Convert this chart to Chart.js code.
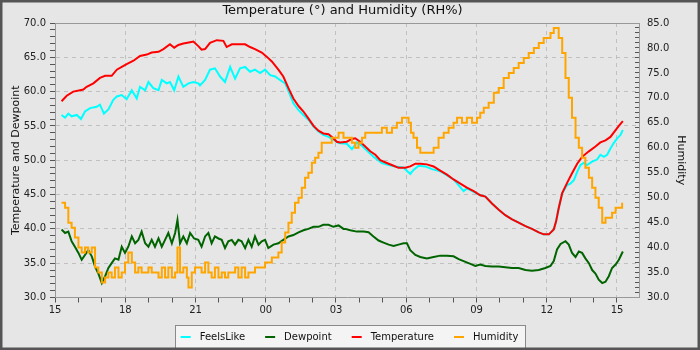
<!DOCTYPE html>
<html lang="en">
<head>
<meta charset="UTF-8">
<title>Temperature and Humidity</title>
<style>
    html, body { margin: 0; padding: 0; background: #e6e6e6; }
    canvas { display: block; }
</style>
</head>
<body>
<canvas id="weatherChart" width="700" height="350"></canvas>
<script src="https://cdn.jsdelivr.net/npm/chart.js"></script>
<script>
// Time is counted in hours from 15:00 on the first day
const xTickLabels = ['15', '18', '21', '00', '03', '06', '09', '12', '15'];

const tempHours = [0.28, 0.50, 0.78, 1.07, 1.21, 1.35, 1.64, 1.92, 2.14, 2.42, 2.64, 2.85, 3.06, 3.35, 3.63, 3.92, 4.13, 4.42, 4.63, 4.91, 5.09, 5.27, 5.48, 5.77, 5.91, 6.13,
    6.26, 6.41, 6.62, 6.91, 7.19, 7.33, 7.55, 7.83, 8.12, 8.33, 8.54, 8.83, 9.04, 9.26, 9.54, 9.75, 9.97, 10.18, 10.40, 10.61, 10.82, 11.04, 11.25, 11.46, 11.68, 11.89, 12.03,
    12.18, 12.46, 12.68, 12.82, 13.03, 13.25, 13.46, 13.68, 13.89, 14.17, 14.46, 14.67, 14.96, 15.17, 15.39, 15.60, 15.88, 16.17, 16.45, 16.74, 17.02, 17.31, 17.59, 17.88, 18.16,
    18.38, 18.66, 18.95, 19.23, 19.52, 19.80, 20.09, 20.37, 20.66, 20.87, 21.09, 21.30, 21.40, 21.51, 21.66, 21.87, 22.08, 22.30, 22.51, 22.80, 23.08, 23.29, 23.51, 23.72, 23.94, 24.08, 24.25];
const tempValues = [58.6, 59.4, 60.0, 60.2, 60.3, 60.7, 61.2, 62.0, 62.3, 62.3, 63.2, 63.6, 64.0, 64.5, 65.2, 65.4, 65.7, 65.8, 66.2, 66.9, 66.4, 66.8, 67.0, 67.2, 67.3, 66.6,
    66.1, 66.2, 67.1, 67.5, 67.4, 66.5, 66.9, 66.9, 66.9, 66.5, 66.2, 65.7, 65.1, 64.4, 63.2, 62.2, 60.5, 59.0, 57.9, 57.1, 56.1, 55.0, 54.3, 53.9, 53.8, 53.2, 52.7,
    52.6, 52.7, 53.1, 53.2, 52.7, 52.0, 51.3, 50.8, 50.0, 49.6, 49.2, 48.9, 48.9, 49.1, 49.5, 49.5, 49.4, 49.1, 48.5, 47.9, 47.2, 46.6, 46.0, 45.5, 44.9,
    44.7, 43.7, 42.8, 42.0, 41.4, 40.9, 40.4, 40.0, 39.5, 39.2, 39.2, 39.9, 41.1, 43.0, 45.2, 46.7, 48.1, 49.5, 50.5, 51.3, 52.0, 52.6, 52.9, 53.4, 54.4, 55.0, 55.7];

const feelsHours = [0.28, 0.43, 0.57, 0.71, 0.93, 1.11, 1.28, 1.50, 1.78, 1.92, 2.09, 2.28, 2.49, 2.64, 2.85, 3.06, 3.28, 3.49, 3.63, 3.85, 3.99, 4.20, 4.42, 4.56, 4.77, 4.91, 5.09, 5.27, 5.48, 5.70, 5.91,
    6.12, 6.19, 6.41, 6.62, 6.83, 7.05, 7.26, 7.48, 7.69, 7.90, 8.12, 8.33, 8.54, 8.76, 8.97, 9.19, 9.40, 9.61, 9.83, 10.04, 10.18, 10.40, 10.61, 10.82, 11.04, 11.25, 11.46, 11.68, 11.89, 12.11,
    12.46, 12.68, 12.89, 13.11, 13.32, 13.60, 13.96, 14.25, 14.53, 14.89, 15.17, 15.31, 15.53, 15.81, 16.10, 16.45, 17.02, 17.45, 17.59, 17.88, 18.16,
    18.38, 18.66, 18.95, 19.23, 19.52, 19.80, 20.09, 20.37, 20.66, 20.87, 21.09, 21.30, 21.40, 21.51, 21.66,
    21.87, 22.01, 22.16, 22.30, 22.44, 22.58, 22.72, 22.94, 23.15, 23.29, 23.44, 23.58, 23.72, 23.86, 24.01, 24.15, 24.25];
const feelsValues = [56.6, 56.2, 56.8, 56.4, 56.6, 56.0, 57.1, 57.6, 57.8, 58.1, 56.8, 57.4, 58.8, 59.3, 59.5, 58.9, 60.2, 59.0, 60.7, 60.2, 61.4, 60.5, 60.2, 61.7, 61.2, 61.4, 60.2, 62.2, 60.7, 61.2, 61.4,
    61.2, 60.9, 61.7, 63.2, 63.4, 62.2, 61.4, 63.6, 61.9, 63.4, 63.6, 62.9, 63.2, 62.7, 63.2, 62.4, 62.2, 61.7, 61.2, 59.5, 58.3, 57.3, 56.6, 55.9, 54.9, 54.2, 53.7, 53.4, 53.0, 52.5,
    52.4, 51.6, 52.6, 52.1, 51.4, 50.5, 49.6, 49.3, 49.1, 48.9, 48.0, 48.6, 49.2, 49.1, 48.7, 48.4, 47.2, 45.5, 45.9, 45.4, 44.9,
    44.7, 43.7, 42.8, 42.0, 41.4, 40.9, 40.4, 40.0, 39.5, 39.2, 39.2, 39.9, 41.1, 43.0, 45.2,
    46.4, 46.6, 47.1, 48.3, 49.3, 49.6, 49.3, 49.8, 50.1, 50.8, 50.5, 50.8, 51.7, 52.5, 53.2, 53.7, 54.4];

const dewHours = [0.28, 0.43, 0.57, 0.71, 0.85, 1.00, 1.14, 1.28, 1.42, 1.57, 1.71, 1.85, 2.00, 2.14, 2.28, 2.42, 2.56, 2.71, 2.85, 2.99, 3.13, 3.28, 3.42, 3.56, 3.70, 3.85, 3.99, 4.13, 4.27, 4.42, 4.56, 4.70, 4.84, 4.99, 5.13, 5.23, 5.34, 5.48, 5.63, 5.77, 5.94,
    6.12, 6.26, 6.41, 6.55, 6.69, 6.83, 6.98, 7.12, 7.26, 7.40, 7.55, 7.69, 7.83, 7.97, 8.12, 8.26, 8.40, 8.54, 8.69, 8.83, 8.97, 9.11, 9.33, 9.54, 9.75, 9.97, 10.18, 10.40, 10.61, 10.82, 11.04, 11.25, 11.46, 11.68, 11.89, 12.11, 12.32,
    12.39, 12.61, 12.89, 13.18, 13.39, 13.60, 13.82, 14.03, 14.25, 14.46, 14.67, 14.89, 15.03, 15.17, 15.39, 15.60, 15.88, 16.17, 16.45, 16.74, 17.02, 17.24, 17.45, 17.74, 17.95, 18.16,
    18.38, 18.66, 18.95, 19.23, 19.52, 19.80, 20.09, 20.37, 20.66, 20.94, 21.16, 21.30, 21.44, 21.59, 21.80, 21.94, 22.08, 22.23, 22.37, 22.51, 22.65, 22.80, 22.94, 23.08, 23.22, 23.37, 23.51, 23.65, 23.79, 23.94, 24.08, 24.25];
const dewValues = [39.9, 39.4, 39.6, 38.2, 37.4, 36.5, 35.5, 36.2, 36.9, 36.0, 34.5, 33.5, 32.1, 33.1, 34.3, 35.0, 35.7, 35.5, 37.4, 36.5, 37.4, 38.9, 37.9, 38.4, 39.6, 37.9, 37.4, 38.4, 37.4, 38.6, 37.4, 38.4, 39.4, 37.9, 39.4, 41.3, 37.9, 38.9, 37.9, 39.4, 38.6,
    38.4, 37.4, 38.9, 39.4, 37.9, 38.9, 38.6, 38.4, 37.2, 38.2, 38.4, 37.7, 38.4, 38.2, 37.2, 38.4, 37.4, 38.9, 37.7, 38.2, 38.4, 37.2, 37.7, 37.9, 38.4, 38.9, 39.1, 39.5, 39.8, 40.0, 40.3, 40.3, 40.6, 40.6, 40.3, 40.5, 40.0,
    40.0, 39.8, 39.6, 39.6, 39.5, 38.9, 38.3, 38.0, 37.7, 37.5, 37.7, 37.9, 37.9, 36.9, 36.2, 35.9, 35.7, 35.9, 36.1, 36.1, 36.0, 35.6, 35.3, 34.9, 34.6, 34.8,
    34.6, 34.5, 34.5, 34.4, 34.3, 34.3, 34.0, 33.9, 34.0, 34.3, 34.6, 35.3, 37.0, 37.8, 38.2, 37.7, 36.5, 35.9, 36.7, 36.5, 35.7, 35.0, 34.0, 33.5, 32.6, 32.1, 32.3, 33.1, 34.3, 34.8, 35.5, 36.7];

const humHours = [0.28, 0.43, 0.57, 0.71, 0.85, 1.00, 1.14, 1.28, 1.42, 1.57, 1.71, 1.85, 2.00, 2.14, 2.28, 2.42, 2.56, 2.71, 2.85, 2.99, 3.13, 3.28, 3.42, 3.56, 3.70, 3.85, 3.99, 4.13, 4.27, 4.42, 4.56, 4.70, 4.84, 4.99, 5.13, 5.23, 5.34, 5.48, 5.63, 5.70, 5.84, 5.98,
    6.12, 6.26, 6.41, 6.55, 6.69, 6.83, 6.98, 7.12, 7.26, 7.40, 7.55, 7.69, 7.83, 7.97, 8.12, 8.26, 8.40, 8.54, 8.69, 8.83, 8.97, 9.11, 9.26, 9.40, 9.54, 9.68, 9.83, 9.97, 10.11, 10.25, 10.40, 10.54, 10.68, 10.82, 10.97, 11.11, 11.25, 11.39, 11.54, 11.68, 11.82, 11.96, 12.11,
    12.18, 12.32, 12.54, 12.68, 12.82, 12.96, 13.11, 13.25, 13.46, 13.75, 13.96, 14.17, 14.39, 14.60, 14.82, 14.96, 15.10, 15.20, 15.31, 15.46, 15.60, 15.81, 15.95, 16.17, 16.38, 16.60, 16.81, 17.02, 17.17, 17.38, 17.59, 17.81, 18.02, 18.16, 18.31,
    18.52, 18.74, 18.95, 19.16, 19.38, 19.59, 19.80, 20.02, 20.23, 20.45, 20.66, 20.87, 21.02, 21.16, 21.30, 21.40, 21.51, 21.66, 21.80, 21.94, 22.08, 22.23, 22.37, 22.51, 22.65, 22.80, 22.94, 23.08, 23.22, 23.37, 23.51, 23.65, 23.79, 23.94, 24.08, 24.22];
const humValues = [49, 48, 45, 44, 42, 40, 39, 40, 39, 40, 36, 35, 33, 34, 35, 34, 36, 34, 35, 37, 39, 37, 35, 36, 35, 35, 36, 35, 35, 34, 36, 34, 36, 34, 35, 40, 35, 36, 34, 32, 35, 36,
    36, 35, 37, 35, 34, 36, 34, 35, 34, 35, 35, 36, 34, 36, 34, 35, 35, 36, 36, 36, 37, 37, 38, 38, 39, 41, 43, 45, 47, 49, 50, 52, 54, 55, 57, 58, 59, 61, 61, 61, 62, 62, 63,
    63, 62, 62, 61, 60, 61, 62, 63, 63, 63, 64, 63, 64, 65, 66, 66, 65, 63, 62, 60, 59, 59, 59, 60, 62, 63, 64, 65, 66, 65, 66, 65, 66, 67, 68,
    69, 71, 72, 74, 75, 76, 77, 78, 79, 80, 81, 82, 82, 83, 84, 84, 82, 79, 74, 70, 66, 62, 60, 58, 56, 54, 52, 50, 48, 45, 46, 46, 47, 48, 48, 49];

const pageColor = '#e6e6e6';
const axisColor = '#999999';
const gridColor = '#c0c0c0';
const tickMarkColor = '#555555';
const markGap = 14;   // blank space in front of each legend line

function toPoints(hours, values) {
    return hours.map((h, i) => ({ x: h, y: values[i] }));
}

// short coloured line used as the legend symbol
function legendMark(color) {
    const c = document.createElement('canvas');
    c.width = 28;
    c.height = 2;
    const g = c.getContext('2d');
    g.fillStyle = color;
    g.fillRect(markGap, 0, 10, 2);
    return c;
}

const chartFrame = {
    id: 'chartFrame',
    beforeDraw(chart) {
        const { ctx, width, height, legend } = chart;
        ctx.save();
        ctx.fillStyle = pageColor;
        ctx.fillRect(0, 0, width, height);
        const boxes = legend.legendHitBoxes;
        if (boxes && boxes.length) {
            const first = boxes[0];
            const last = boxes[boxes.length - 1];
            const left = Math.round(first.left + markGap - 6) + 0.5;
            const right = Math.round(last.left + last.width + 7) + 0.5;
            const top = Math.round(first.top + first.height / 2 - 12) + 0.5;
            ctx.fillStyle = '#f4f4f4';
            ctx.fillRect(left, top, right - left, height - top + 5);
            ctx.strokeStyle = '#8a8a8a';
            ctx.lineWidth = 1;
            ctx.strokeRect(left, top, right - left, height - top + 5);
        }
        ctx.restore();
    },
    afterDraw(chart) {
        const { ctx, width, height, chartArea } = chart;
        ctx.save();
        ctx.strokeStyle = axisColor;
        ctx.lineWidth = 1;
        const y = Math.round(chartArea.top) + 0.5;
        ctx.beginPath();
        ctx.moveTo(chartArea.left, y);
        ctx.lineTo(chartArea.right + 1, y);
        ctx.stroke();
        ctx.strokeStyle = '#555555';
        ctx.lineWidth = 5;
        ctx.strokeRect(0, 0, width, height);
        ctx.restore();
    }
};

Chart.defaults.font.family = "'DejaVu Sans', sans-serif";
Chart.defaults.font.size = 10;
Chart.defaults.color = '#222222';

const series = [
    { label: 'FeelsLike', hours: feelsHours, values: feelsValues, color: '#00ffff', axis: 'y', order: 4 },
    { label: 'Dewpoint', hours: dewHours, values: dewValues, color: '#006400', axis: 'y', order: 3 },
    { label: 'Temperature', hours: tempHours, values: tempValues, color: '#ff0000', axis: 'y', order: 2 },
    { label: 'Humidity', hours: humHours, values: humValues, color: '#ffa500', axis: 'y1', order: 1, stepped: true }
];

new Chart(document.getElementById('weatherChart'), {
    type: 'line',
    data: {
        datasets: series.map(s => ({
            label: s.label,
            data: toPoints(s.hours, s.values),
            yAxisID: s.axis,
            borderColor: s.color,
            backgroundColor: s.color,
            borderWidth: 2,
            pointRadius: 0,
            pointStyle: legendMark(s.color),
            tension: 0,
            stepped: s.stepped || false,
            order: s.order
        }))
    },
    options: {
        responsive: false,
        animation: false,
        devicePixelRatio: 1,
        layout: { padding: { left: 0, right: 15, top: 0, bottom: -2 } },
        plugins: {
            tooltip: { enabled: false },
            title: {
                display: true,
                text: 'Temperature (°) and Humidity (RH%)',
                color: '#111111',
                font: { size: 13, weight: 'normal' },
                padding: { top: 3, bottom: 4.4 }
            },
            legend: {
                position: 'bottom',
                labels: {
                    usePointStyle: true,
                    pointStyleWidth: 28,
                    padding: 6,
                    color: '#111111',
                    font: { size: 10 },
                    sort: (a, b) => a.datasetIndex - b.datasetIndex
                }
            }
        },
        scales: {
            x: {
                type: 'linear',
                min: 0,
                max: 24.94,
                afterFit: s => { s.height = 28.5; },
                ticks: {
                    stepSize: 1,
                    autoSkip: false,
                    maxRotation: 0,
                    includeBounds: false,
                    padding: 2,
                    callback: v => (v % 3 === 0 ? xTickLabels[v / 3] : '')
                },
                grid: {
                    color: c => (c.tick && c.tick.value % 3 === 0 && c.tick.value > 0 ? gridColor : 'rgba(0,0,0,0)'),
                    tickColor: tickMarkColor,
                    tickLength: 5
                },
                border: { color: axisColor, dash: [4, 4] }
            },
            y: {
                position: 'left',
                min: 30,
                max: 70,
                afterFit: s => { s.width = 55; },
                ticks: {
                    stepSize: 1,
                    autoSkip: false,
                    padding: 4,
                    callback: v => (Math.round(v) % 5 === 0 ? v.toFixed(1) : '')
                },
                grid: {
                    color: c => {
                        const v = c.tick ? Math.round(c.tick.value) : 0;
                        return v % 5 === 0 && v > 30 && v < 70 ? gridColor : 'rgba(0,0,0,0)';
                    },
                    tickColor: tickMarkColor,
                    tickLength: 5
                },
                border: { color: axisColor, dash: [4, 4] },
                title: {
                    display: true,
                    text: 'Temperature and Dewpoint',
                    color: '#111111',
                    font: { size: 11 },
                    padding: { top: 10, bottom: 0 }
                }
            },
            y1: {
                position: 'right',
                min: 30,
                max: 85,
                afterFit: s => { s.width = 46; },
                ticks: {
                    stepSize: 1,
                    autoSkip: false,
                    padding: 12,
                    callback: v => (Math.round(v) % 5 === 0 ? v.toFixed(1) : '')
                },
                grid: {
                    drawOnChartArea: false,
                    tickColor: tickMarkColor,
                    tickLength: -4
                },
                border: { color: axisColor },
                title: {
                    display: true,
                    text: 'Humidity',
                    color: '#111111',
                    font: { size: 11 },
                    padding: { top: -2, bottom: 0 }
                }
            }
        }
    },
    plugins: [chartFrame]
});
</script>
</body>
</html>
